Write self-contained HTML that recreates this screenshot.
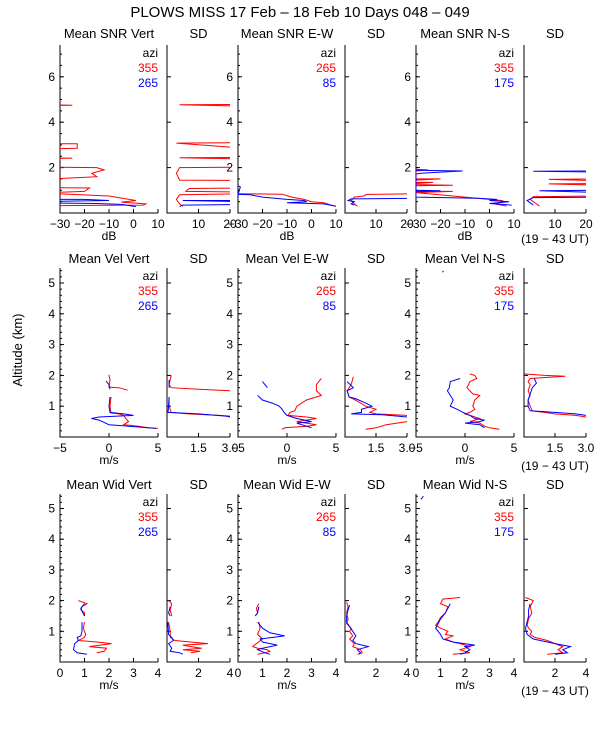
<!DOCTYPE html>
<html><head><meta charset="utf-8"><style>
body{margin:0;background:#fff;}
svg{display:block;font-family:"Liberation Sans",sans-serif;}
</style></head><body>
<svg id="c" width="600" height="750" viewBox="0 0 600 750">
<text x="300" y="17" font-size="15" text-anchor="middle">PLOWS MISS  17 Feb – 18 Feb 10 Days 048 – 049</text>
<text transform="translate(22,350) rotate(-90)" font-size="13" text-anchor="middle">Altitude (km)</text>
</svg>
<script>
// ---- data: [altitude km, value], null = gap ----
const snrVertRed=[[4.78,-40],[4.75,-25],[4.72,-40],[3.05,-40],[3.05,-23],[2.85,-23],[2.82,-40],[2.42,-40],[2.42,-25],[2.38,-40],[2.02,-40],[2.0,-15],[1.9,-12],[1.75,-17],[1.6,-15],[1.47,-40],[1.12,-40],[1.1,-18],[0.95,-20],[0.88,-40],[0.82,-25],[0.75,-10],[0.62,-3],[0.55,1],[0.48,-5],[0.4,5],[0.35,4],[0.32,-40]];
const snrVertBlue=[[0.6,-40],[0.6,-20],[0.55,-10],[0.5,-40],[0.45,-40],[0.42,-15],[0.38,-5],[0.3,0],[0.28,1]];
const snrVertSdRed=[[4.78,25],[4.77,4],[4.7,25],[3.1,25],[3.08,3],[2.85,25],[2.45,25],[2.43,4],[2.38,25],[2.02,25],[2.0,4],[1.75,3],[1.45,4],[1.43,25],[1.1,25],[1.08,7],[0.95,6],[0.92,25],[0.85,25],[0.8,4],[0.6,3],[0.4,4],[0.3,5]];
const snrVertSdBlue=[[0.55,25],[0.55,5],[0.5,25],[0.38,25],[0.35,5],[0.28,4]];
const snrEwRed=[[0.85,-40],[0.85,-30],[0.83,-12],[0.7,-8],[0.6,-3],[0.5,0],[0.45,5],[0.35,8],[0.3,10]];
const snrEwBlue=[[1.2,-30],[1.15,-29],[0.82,-30],[0.8,-25],[0.7,-20],[0.6,-10],[0.55,-3],[0.5,-2],[0.45,-10],[0.4,5],[0.3,10]];
const snrEwSdRed=[[0.85,25],[0.82,7],[0.75,6],[0.7,3],[0.55,2],[0.4,3],[0.3,4]];
const snrEwSdBlue=[[0.65,25],[0.62,2],[0.55,1],[0.5,3],[0.4,2],[0.35,3]];
const snrNsRed=[[1.92,-30],[1.9,-25],[1.85,-30],[1.5,-30],[1.5,-20],[1.45,-30],[1.35,-30],[1.35,-23],[1.3,-30],[1.25,-30],[1.22,-15],[1.2,-30],[0.95,-30],[0.95,-15],[0.9,-30],[0.85,-25],[0.7,-10],[0.55,5],[0.5,6],[0.4,2],[0.35,5],[0.3,7]];
const snrNsBlue=[[1.88,-30],[1.85,-11],[1.8,-20],[1.75,-28],[1.72,-30],[1.0,-30],[0.98,-20],[0.95,-30],[0.7,-30],[0.65,-5],[0.6,3],[0.55,0],[0.5,8],[0.42,0],[0.35,9]];
const snrNsSdRed=[[1.5,25],[1.48,8],[1.42,25],[1.3,25],[1.28,8],[1.22,25],[0.75,25],[0.72,3],[0.6,2],[0.5,3],[0.4,4],[0.3,5]];
const snrNsSdBlue=[[1.85,25],[1.84,3],[1.8,25],[1.0,25],[0.98,5],[0.9,25],[0.7,25],[0.68,3],[0.55,1],[0.45,2],[0.35,3]];

const velVertRed=[[2.02,0],[1.85,0.1],[1.62,0],[1.6,1.0],[1.52,1.9],null,[1.3,0.2],[1.0,0.1],[0.78,0.2],[0.75,1],[0.7,1.5],[0.6,1.7],[0.5,2.0],[0.4,1.5],[0.35,3],[0.3,4],[0.28,5]];
const velVertBlue=[[1.82,-0.3],[1.7,0],[1.55,0.1],null,[1.3,0.1],[1.0,0],[0.8,0.1],[0.75,1.5],[0.7,2.5],[0.65,-1],[0.6,-1.8],[0.55,-1],[0.4,0],[0.35,2],[0.3,4],[0.28,4.8]];
const velVertSdRed=[[2.0,0.2],[1.7,0.1],[1.6,0.2],[1.55,1.5],[1.5,3.0],null,[1.3,0.1],[1.0,0.1],[0.8,0.2],[0.75,1.0],[0.7,2.5],[0.68,3.0]];
const velVertSdBlue=[[1.85,0.1],[1.6,0.1],null,[1.3,0.1],[0.8,0.05],[0.75,1.5],[0.68,2.8],[0.65,3.0]];
const velEwRed=[[1.9,3.5],[1.7,3],[1.5,3],[1.35,3.5],[1.2,2],[1.0,1],[0.85,0.8],[0.8,0.3],[0.7,0.1],[0.65,2],[0.6,3],[0.5,1],[0.4,3],[0.35,2],[0.3,-0.2],[0.25,-0.5]];
const velEwBlue=[[1.8,-2.5],[1.6,-2],null,[1.35,-3],[1.2,-2.5],[1.1,-1.5],[1.0,-0.8],[0.9,-0.5],[0.8,-0.3],[0.7,0],[0.6,1],[0.5,2.5],[0.45,1],[0.4,1.5],[0.35,2],[0.3,2.5]];
const velEwSdRed=[[1.95,0.4],[1.7,0.3],[1.5,0.1],[1.3,0.2],[1.2,0.5],[1.0,1.0],[0.9,1.5],[0.8,1.2],[0.75,1.5],[0.7,3.0],[0.6,3.5],[0.5,3.0],[0.4,2.0],[0.3,1.5],[0.25,1.0]];
const velEwSdBlue=[[1.8,0.1],[1.6,0.4],[1.5,0.1],[1.3,0.2],[1.25,0.5],[1.1,1.0],[1.0,1.3],[0.9,0.8],[0.8,0.8],[0.75,0.3],[0.72,1.8],[0.65,3.0],[0.6,3.2],null,[0.35,3.0],[0.3,3.2]];
const velNsRed=[[2.05,0.5],[2.0,1],[1.9,1.2],[1.8,0.5],[1.6,0.2],[1.4,0.8],[1.35,1.5],[1.2,1.0],[1.0,0.8],[0.9,1.0],[0.8,0.5],[0.75,0],[0.7,0.5],[0.6,1.5],[0.55,1],[0.5,0.5],[0.45,1.5],[0.35,2],[0.3,2.5],[0.25,3.5]];
const velNsBlue=[[5.4,-2.2],[5.35,-2.3],null,[1.9,-0.5],[1.8,-1.5],[1.6,-1.6],[1.5,-1.8],[1.35,-1.5],[1.2,-1.2],[1.0,-1.5],[0.9,-0.8],[0.8,-0.2],[0.7,0.5],[0.6,1.0],[0.55,2],[0.5,1.5],[0.45,0],[0.4,1.5],[0.3,2.0]];
const velNsSdRed=[[2.05,0],[2.0,1.0],[1.97,2.0],[1.9,0.3],[1.8,0.2],[1.7,0.3],[1.5,0.2],[1.35,0.3],[1.2,0.2],[1.0,0.3],[0.85,0.4],[0.75,1.5],[0.7,2.5],[0.65,3.0]];
const velNsSdBlue=[[1.9,0.5],[1.75,0.6],[1.6,0.4],[1.4,0.3],[1.2,0.2],[1.0,0.2],[0.85,0.3],[0.8,1.5],[0.75,2.5],[0.7,3.0]];

const widVertRed=[[2.0,0.75],[1.9,1.1],[1.8,0.9],[1.7,0.85],[1.6,1.0],[1.5,1.0],null,[1.3,1.0],[1.1,0.95],[0.9,1.05],[0.8,1.0],[0.7,0.75],[0.65,1.5],[0.6,2.1],[0.5,1.2],[0.45,1.9],[0.35,1.8],[0.3,1.5]];
const widVertBlue=[[1.9,1.0],[1.75,0.85],[1.5,1.0],null,[1.3,0.9],[1.0,0.9],[0.85,0.85],[0.8,0.7],[0.7,0.75],[0.6,0.6],[0.4,0.55],[0.3,0.7],[0.25,1.1]];
const widVertSdRed=[[2.0,0.1],[1.9,0.3],[1.7,0.2],[1.5,0.3],null,[1.3,0.1],[1.0,0.2],[0.8,0.2],[0.7,0.5],[0.65,1.5],[0.6,2.6],[0.55,1.0],[0.5,1.5],[0.45,2.2],[0.4,1.0],[0.35,2.1],[0.3,1.5]];
const widVertSdBlue=[[1.8,0.2],[1.6,0.1],[1.5,0.2],null,[1.3,0.05],[0.9,0.1],[0.8,0.3],[0.7,0.4],[0.6,0.1],[0.45,0.3],[0.35,0.2],[0.3,0.8],[0.25,1.0]];
const widEwRed=[[1.9,0.85],[1.75,0.75],[1.6,0.8],[1.5,0.7],null,[1.3,0.85],[1.1,0.9],[0.9,0.8],[0.75,1.0],[0.6,0.75],[0.5,0.6],[0.45,0.8],[0.4,1.2],[0.35,1.3],[0.3,1.1],[0.25,0.8]];
const widEwBlue=[[1.8,0.85],[1.6,0.8],[1.5,0.7],null,[1.3,0.8],[1.1,1.0],[0.95,1.3],[0.85,1.9],[0.75,0.9],[0.65,1.0],[0.55,1.6],[0.45,1.0],[0.4,0.8],[0.3,1.1],[0.25,1.3]];
const widEwSdRed=[[1.95,0.1],[1.8,0.2],[1.6,0.1],[1.4,0.2],[1.25,0.1],[1.1,0.4],[1.0,0.3],[0.85,0.5],[0.75,0.3],[0.6,0.6],[0.5,0.5],[0.4,1.0],[0.3,1.1],[0.25,0.8]];
const widEwSdBlue=[[1.85,0.3],[1.7,0.2],[1.5,0.1],[1.3,0.1],[1.15,0.3],[1.0,0.5],[0.85,0.7],[0.7,0.5],[0.6,0.7],[0.5,1.5],[0.4,0.8],[0.3,1.0],[0.25,0.9]];
const widNsRed=[[2.1,1.8],[2.05,1.1],[1.9,1.0],[1.8,1.3],[1.6,1.2],[1.45,1.0],[1.3,0.9],[1.2,0.8],[1.1,1.0],[1.0,1.3],[0.9,1.2],[0.85,1.5],[0.75,1.2],[0.65,1.5],[0.6,1.8],[0.5,2.2],[0.4,1.8],[0.3,2.2],[0.25,1.5]];
const widNsBlue=[[5.4,0.3],[5.3,0.2],null,[1.9,1.4],[1.75,1.3],[1.6,1.2],[1.4,1.0],[1.25,0.9],[1.1,0.8],[1.0,0.9],[0.9,1.0],[0.75,1.1],[0.65,1.5],[0.55,2.4],[0.5,2.0],[0.4,2.2],[0.3,2.0],[0.25,1.8]];
const widNsSdRed=[[2.1,0.1],[2.0,0.6],[1.8,0.4],[1.6,0.5],[1.4,0.3],[1.2,0.2],[1.1,0.3],[1.0,0.5],[0.9,0.4],[0.8,0.7],[0.7,1.5],[0.6,2.0],[0.5,2.5],[0.4,2.2],[0.3,2.5],[0.25,1.5]];
const widNsSdBlue=[[1.9,0.4],[1.7,0.3],[1.5,0.3],[1.3,0.2],[1.1,0.1],[0.9,0.2],[0.75,0.6],[0.6,2.0],[0.5,3.0],[0.4,2.5],[0.3,2.8],[0.25,2.0]];

const rowTitles=[["Mean SNR Vert","SD","Mean SNR E-W","SD","Mean SNR N-S","SD"],["Mean Vel Vert","SD","Mean Vel E-W","SD","Mean Vel N-S","SD"],["Mean Wid Vert","SD","Mean Wid E-W","SD","Mean Wid N-S","SD"]];
const aziRed=["355","265","355"];   // per column group: Vert, E-W, N-S
const aziBlue=["265","85","175"];
const meanTicks=[[-30,-20,-10,0,10],[-5,0,5],[0,1,2,3,4]];
const sdTicks=[[10,20],[1.5,3.0],[2,4]];
const sdTickLabels=[["10","20"],["1.5","3.0"],["2","4"]];
const yTicks=[[2,4,6],[1,2,3,4,5],[1,2,3,4,5]];
const xUnits=["dB","m/s","m/s"];

const series=[
 [[snrVertRed,snrVertBlue],[snrVertSdRed,snrVertSdBlue],[snrEwRed,snrEwBlue],[snrEwSdRed,snrEwSdBlue],[snrNsRed,snrNsBlue],[snrNsSdRed,snrNsSdBlue]],
 [[velVertRed,velVertBlue],[velVertSdRed,velVertSdBlue],[velEwRed,velEwBlue],[velEwSdRed,velEwSdBlue],[velNsRed,velNsBlue],[velNsSdRed,velNsSdBlue]],
 [[widVertRed,widVertBlue],[widVertSdRed,widVertSdBlue],[widEwRed,widEwBlue],[widEwSdRed,widEwSdBlue],[widNsRed,widNsBlue],[widNsSdRed,widNsSdBlue]]];

// ---- layout ----
const svg=document.getElementById('c');
const NS='http://www.w3.org/2000/svg';
const cols=[[60,158],[167,230],[238,336],[345,407],[416,514],[524,586]];
const rows=[{base:213,ppk:22.7,top:45,minor:0.5,titleY:38},{base:437,ppk:30.8,top:268,minor:0.2,titleY:263},{base:662,ppk:30.7,top:494,minor:0.2,titleY:489}];
const meanRange=[[-30,10],[-5,5],[0,4]];
const sdRange=[[0,20],[0,3],[0,4]];
function mk(tag,attrs,parent){const e=document.createElementNS(NS,tag);for(const k in attrs)e.setAttribute(k,attrs[k]);(parent||svg).appendChild(e);return e;}
function txt(x,y,s,size,anchor,fill,parent){const t=mk('text',{x:x,y:y,'font-size':size,'text-anchor':anchor||'middle',fill:fill||'#000'},parent);t.textContent=s;return t;}

rows.forEach((R,ri)=>{
 const yOf=a=>R.base-a*R.ppk;
 cols.forEach((C,ci)=>{
  const isMean=ci%2===0;
  const rng=isMean?meanRange[ri]:sdRange[ri];
  const xOf=v=>C[0]+(v-rng[0])/(rng[1]-rng[0])*(C[1]-C[0]);
  const g=mk('g',{});
  
  
  const cid='clip'+ri+'_'+ci;
  const cp=mk('clipPath',{id:cid},g);mk('rect',{x:C[0],y:R.top,width:C[1]-C[0],height:R.base-R.top},cp);
  const ax=mk('path',{d:`M${C[0]},${R.top}V${R.base}H${C[1]}`,stroke:'#000','stroke-width':1,fill:'none'},g);
  
  
  yTicks[ri].forEach(t=>{mk('line',{x1:C[0],x2:C[0]+4,y1:yOf(t),y2:yOf(t),stroke:'#000'},g);if(isMean){txt(C[0]-5,yOf(t)+4,String(t),12,'end','#000',g);}});
  if(isMean){const ymax=(R.base-R.top)/R.ppk;for(let a=R.minor;a<ymax;a+=R.minor){mk('line',{x1:C[0],x2:C[0]+2,y1:yOf(a),y2:yOf(a),stroke:'#000'},g);}}
  const xt=isMean?meanTicks[ri]:sdTicks[ri];
  xt.forEach((t,i)=>{mk('line',{x1:xOf(t),x2:xOf(t),y1:R.base,y2:R.base-4,stroke:'#000'},g);const lab=isMean?String(t).replace('-','\u2212'):sdTickLabels[ri][i];txt(xOf(t),R.base+15,lab,12,'middle','#000',g);});
  if(isMean){txt((C[0]+C[1])/2,R.base+27,xUnits[ri],12,'middle','#000',g);}
  const tt=txt((C[0]+C[1])/2,R.titleY,rowTitles[ri][ci],13,'middle','#000',g);
  
  
  if(isMean){
   const gi=ci/2;
   const ly=R.top+12;
   txt(C[1],ly,'azi',12,'end','#000',g);
   const lr=txt(C[1],ly+15,aziRed[gi],12,'end','#f00',g);
   
   
   const lb=txt(C[1],ly+30,aziBlue[gi],12,'end','#00f',g);
   
   
  }
  const pair=series[ri][ci];
  ['#ff0000','#0000ff'].forEach((col,si)=>{
   let d='';let pen=false;
   pair[si].forEach(p=>{if(p===null){pen=false;return;}d+=(pen?'L':'M')+xOf(p[1]).toFixed(1)+','+yOf(p[0]).toFixed(1);pen=true;});
   const pl=mk('path',{d:d,stroke:col,'stroke-width':1,fill:'none','clip-path':`url(#${cid})`},g);
   
   
  });
  if(ci===5){const u=txt(555,R.base+(ri===0?30:33),'(19 \u2212 43 UT)',12,'middle','#000',g);}
 });
});
</script>
</body></html>
